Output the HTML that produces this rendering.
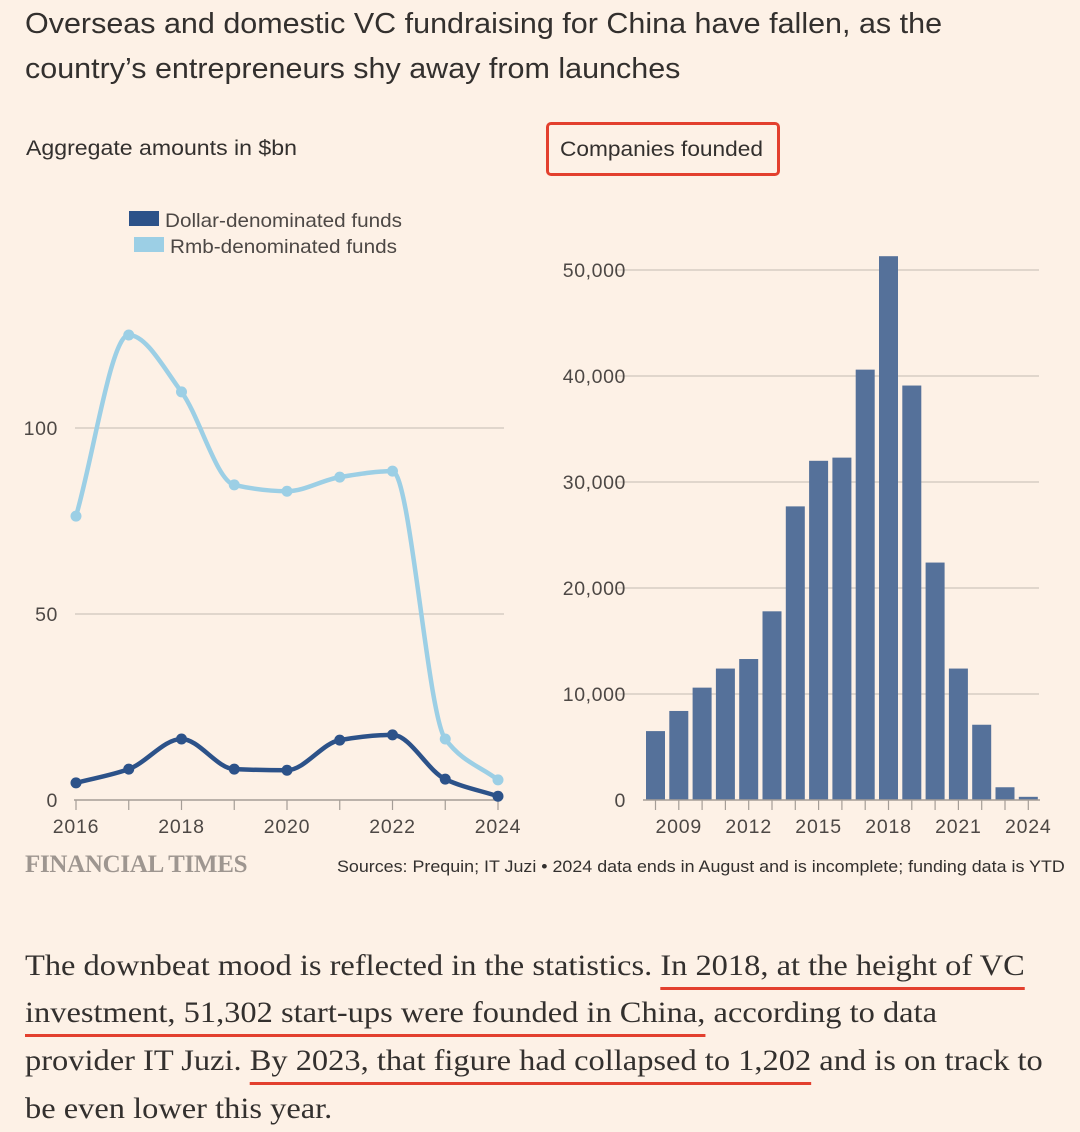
<!DOCTYPE html>
<html><head><meta charset="utf-8"><style>
body{margin:0;width:1080px;height:1132px;background:#fdf1e6;overflow:hidden;font-family:"Liberation Sans",sans-serif;color:#33302e}
.t{position:absolute;white-space:nowrap;transform-origin:0 0}
svg text{font-family:"Liberation Sans",sans-serif;fill:#4d4845}
.p{position:absolute;left:25px;font-family:"Liberation Serif",serif;font-size:29.5px;color:#33302e;white-space:nowrap;transform:scaleX(1.1);transform-origin:0 0}
.u{text-decoration:underline;text-decoration-color:#e3402e;text-decoration-thickness:3px;text-underline-offset:12px}
</style></head><body>
<div class="t" style="left:25px;top:2px;font-size:28.5px;line-height:45px;color:#33302e;transform:scaleX(1.07)">Overseas and domestic VC fundraising for China have fallen, as the<br>country’s entrepreneurs shy away from launches</div>
<div class="t" style="left:26px;top:137px;font-size:21px;transform:scaleX(1.1)">Aggregate amounts in $bn</div>
<div class="t" style="left:546px;top:122px;width:228px;height:48px;border:3px solid #e3402e;border-radius:5px;font-size:21px;line-height:50px;"><span style="display:inline-block;margin-left:11px;transform:scaleX(1.08);transform-origin:0 0">Companies founded</span></div>
<svg id="c" width="1080" height="900" style="position:absolute;left:0;top:0"></svg>
<div class="t" style="left:25px;top:851px;font-family:'Liberation Serif',serif;font-size:25px;color:#9e9690;font-weight:bold;letter-spacing:-0.3px">FINANCIAL TIMES</div>
<div class="t" style="left:337px;top:858px;font-size:16.5px;transform:scaleX(1.083)">Sources: Prequin; IT Juzi • 2024 data ends in August and is incomplete; funding data is YTD</div>
<div class="p" style="top:950px">The downbeat mood is reflected in the statistics. <span class="u">In 2018, at the height of VC</span></div>
<div class="p" style="top:997px"><span class="u">investment, 51,302 start-ups were founded in China,</span> according to data</div>
<div class="p" style="top:1045px">provider IT Juzi. <span class="u">By 2023, that figure had collapsed to 1,202</span> and is on track to</div>
<div class="p" style="top:1093px">be even lower this year.</div>
<script>
const years=[2016,2017,2018,2019,2020,2021,2022,2023,2024];
const rmb=[76.3,125,109.7,84.7,83,86.8,88.4,16.4,5.4];
const usd=[4.6,8.3,16.4,8.3,8,16.1,17.5,5.6,1];
const leftTicks=[0,50,100];
const barYears=[2008,2009,2010,2011,2012,2013,2014,2015,2016,2017,2018,2019,2020,2021,2022,2023,2024];
const companies=[6500,8400,10600,12400,13300,17800,27700,32000,32300,40600,51302,39100,22400,12400,7100,1202,300];
const rightTicks=[0,10000,20000,30000,40000,50000];
const barLabels=[2009,2012,2015,2018,2021,2024];
const svg=document.getElementById('c');const NS='http://www.w3.org/2000/svg';
function mk(t,a,p){const e=document.createElementNS(NS,t);for(const k in a)e.setAttribute(k,a[k]);(p||svg).appendChild(e);return e;}
const lx=y=>76+(y-2016)*52.75, ly=v=>800-v*3.72;
const rx=y=>655.5+(y-2008)*23.3, ry=v=>800-v*0.0106;
leftTicks.forEach(v=>{if(v>0){const g=mk('line',{x1:75,x2:504,y1:ly(v),y2:ly(v),stroke:'#cfc6bd','stroke-width':1.2});

}
const t=mk('text',{x:58,y:ly(v)+7,'text-anchor':'end','font-size':19.5,'letter-spacing':0.6});t.textContent=v;

});
const ax=mk('line',{x1:74,x2:500,y1:800,y2:800,stroke:'#a59d96','stroke-width':1.5});


years.forEach((y,i)=>{mk('line',{x1:lx(y),x2:lx(y),y1:800,y2:810,stroke:'#a59d96','stroke-width':1.2});
if(i%2==0){const t=mk('text',{x:lx(y),y:833,'text-anchor':'middle','font-size':19.5,'letter-spacing':0.8});t.textContent=y;

}});
function smooth(pts){const n=pts.length,d=[],m=[];for(let i=0;i<n-1;i++)d.push((pts[i+1][1]-pts[i][1])/(pts[i+1][0]-pts[i][0]));
m[0]=d[0];m[n-1]=d[n-2];for(let i=1;i<n-1;i++)m[i]=d[i-1]*d[i]<=0?0:2/(1/d[i-1]+1/d[i]);
let s=`M${pts[0][0]},${pts[0][1]}`;for(let i=0;i<n-1;i++){const h=(pts[i+1][0]-pts[i][0])/3;
s+=`C${pts[i][0]+h},${pts[i][1]+m[i]*h} ${pts[i+1][0]-h},${pts[i+1][1]-m[i+1]*h} ${pts[i+1][0]},${pts[i+1][1]}`;}return s;}
function series(vals,col,name){const pts=vals.map((v,i)=>[lx(years[i]),ly(v)]);
const p=mk('path',{d:smooth(pts),fill:'none',stroke:col,'stroke-width':4.5});


pts.forEach(q=>{const c=mk('circle',{cx:q[0],cy:q[1],r:5.5,fill:col});

});}
series(rmb,'#9ccfe5','rmb');series(usd,'#2c5289','dollar');
mk('rect',{x:129,y:211,width:30,height:15,fill:'#2c5289'});
mk('rect',{x:134,y:237,width:30,height:15,fill:'#9ccfe5'});
const l1=mk('text',{x:165,y:227,'font-size':19.5,textLength:237,lengthAdjust:'spacingAndGlyphs'});l1.textContent='Dollar-denominated funds';


const l2=mk('text',{x:170,y:253,'font-size':19.5,textLength:227,lengthAdjust:'spacingAndGlyphs'});l2.textContent='Rmb-denominated funds';


rightTicks.forEach(v=>{if(v>0){const g=mk('line',{x1:615,x2:1039,y1:ry(v),y2:ry(v),stroke:'#cfc6bd','stroke-width':1.2});

}
const t=mk('text',{x:626,y:ry(v)+7,'text-anchor':'end','font-size':19.5,'letter-spacing':0.6});t.textContent=v.toLocaleString('en-US');

});
barYears.forEach((y,i)=>{const b=mk('rect',{x:rx(y)-9.5,y:ry(companies[i]),width:19,height:800-ry(companies[i]),fill:'#55719a'});


mk('line',{x1:rx(y),x2:rx(y),y1:800,y2:810,stroke:'#a59d96','stroke-width':1.2});});
const ax2=mk('line',{x1:643,x2:1040,y1:800,y2:800,stroke:'#a59d96','stroke-width':1.5});


barLabels.forEach(y=>{const t=mk('text',{x:rx(y),y:833,'text-anchor':'middle','font-size':19.5,'letter-spacing':0.8});t.textContent=y;

});
</script>
</body></html>
